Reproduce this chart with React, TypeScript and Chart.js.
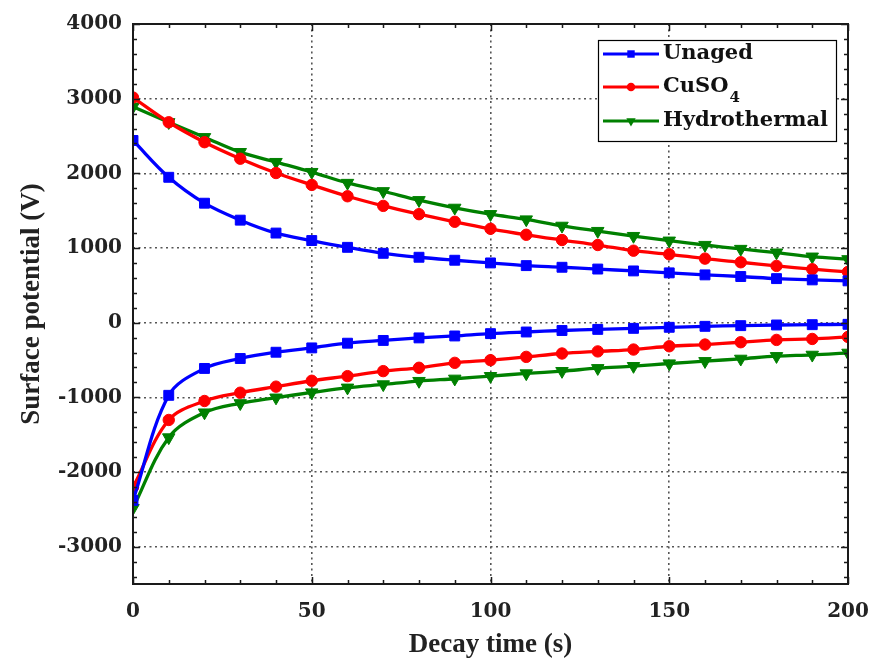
import React, { useEffect, useRef } from "react";
import { Chart, registerables } from "chart.js";

Chart.register(...registerables);

// ---- data ----
const TIME = [0, 10, 20, 30, 40, 50, 60, 70, 80, 90, 100, 110, 120, 130, 140, 150, 160, 170, 180, 190, 200];

const UNAGED_POS = [2440, 1947, 1600, 1373, 1200, 1100, 1009, 929, 876, 836, 800, 764, 742, 718, 693, 667, 640, 618, 590, 573, 560];
const UNAGED_NEG = [-2380, -973, -613, -480, -396, -338, -275, -238, -204, -178, -147, -125, -105, -90, -76, -62, -49, -40, -31, -27, -22];

const CUSO4_POS = [3015, 2684, 2417, 2196, 2004, 1845, 1693, 1564, 1453, 1351, 1257, 1177, 1107, 1040, 964, 916, 858, 809, 760, 716, 680];
const CUSO4_NEG = [-2204, -1303, -1049, -938, -857, -778, -716, -649, -604, -538, -502, -458, -413, -385, -360, -316, -293, -262, -231, -218, -191];

const HYDRO_POS = [2893, 2684, 2484, 2284, 2151, 2017, 1871, 1760, 1640, 1538, 1453, 1382, 1297, 1227, 1160, 1098, 1040, 987, 938, 884, 849];
const HYDRO_NEG = [-2484, -1537, -1204, -1080, -1004, -935, -871, -827, -782, -751, -716, -680, -649, -610, -582, -547, -516, -484, -449, -431, -404];

const SERIES_NAMES = ["Unaged", "CuSO", "Hydrothermal"];
const SERIES_SUBS = ["", "4", ""];
const SERIES_COLORS = ["#0000FF", "#FF0000", "#008000"];

const X_TICKS = [0, 50, 100, 150, 200];
const Y_TICKS = [-3000, -2000, -1000, 0, 1000, 2000, 3000, 4000];
const X_MIN = 0, X_MAX = 200, X_MINOR = 10;
const Y_MIN = -3500, Y_MAX = 4000, Y_MINOR = 200;

const X_TITLE = "Decay time (s)";
const Y_TITLE = "Surface potential (V)";

const TICK_FONT = { family: "'DejaVu Serif'", size: 20, weight: "bold" as const };
const TITLE_FONT = { family: "'Liberation Serif'", size: 27, weight: "bold" as const };

function pts(ys: number[]) {
  return TIME.map((t, i) => ({ x: t, y: ys[i] }));
}

const MARKERS = [
  { style: "rect", radius: 7, rotation: 0 },
  { style: "circle", radius: 5.7, rotation: 0 },
  { style: "triangle", radius: 7.2, rotation: 180 },
];

function makeDataset(idx: number, ys: number[], label: string) {
  const c = SERIES_COLORS[idx];
  const m = MARKERS[idx];
  return {
    label,
    data: pts(ys),
    borderColor: c,
    backgroundColor: c,
    borderWidth: 3.3,
    pointStyle: m.style,
    pointRadius: m.radius,
    pointRotation: m.rotation,
    pointBorderWidth: 1,
    pointBorderColor: c,
    pointBackgroundColor: c,
    tension: 0.35,
    fill: false,
  };
}

function drawMarker(ctx: CanvasRenderingContext2D, style: string, r: number, rot: number, x: number, y: number) {
  ctx.beginPath();
  if (style === "rect") {
    const s = Math.SQRT1_2 * r;
    ctx.rect(x - s, y - s, 2 * s, 2 * s);
  } else if (style === "circle") {
    ctx.arc(x, y, r, 0, Math.PI * 2);
  } else {
    const a = (rot * Math.PI) / 180;
    for (let k = 0; k < 3; k++) {
      const ang = a - Math.PI / 2 + (k * 2 * Math.PI) / 3;
      const px = x + Math.cos(ang) * r;
      const py = y + Math.sin(ang) * r;
      if (k === 0) ctx.moveTo(px, py);
      else ctx.lineTo(px, py);
    }
    ctx.closePath();
  }
  ctx.fill();
}

const framePlugin = {
  id: "frameTicksLegend",
  afterDatasetsDraw(chart: any) {
    const ctx = chart.ctx as CanvasRenderingContext2D;
    const xs = chart.scales.x;
    const ys = chart.scales.y;
    const { left, right, top, bottom } = chart.chartArea;
    ctx.save();
    ctx.strokeStyle = "#1a1a1a";
    ctx.lineWidth = 1.5;
    ctx.beginPath();
    for (let v = X_MIN; v <= X_MAX + 1e-9; v += X_MINOR) {
      const px = Math.round(xs.getPixelForValue(v)) + 0.5;
      const len = X_TICKS.includes(v) ? 7 : 4;
      ctx.moveTo(px, bottom);
      ctx.lineTo(px, bottom - len);
      ctx.moveTo(px, top);
      ctx.lineTo(px, top + len);
    }
    for (let v = -3400; v <= Y_MAX + 1e-9; v += Y_MINOR) {
      const py = Math.round(ys.getPixelForValue(v)) + 0.5;
      const len = Y_TICKS.includes(v) ? 7 : 4;
      ctx.moveTo(left, py);
      ctx.lineTo(left + len, py);
      ctx.moveTo(right, py);
      ctx.lineTo(right - len, py);
    }
    ctx.stroke();
    ctx.lineWidth = 2;
    ctx.strokeRect(left, top, right - left, bottom - top);

    // legend
    const bw = 238, bh = 101;
    const bx = right - 12 - bw;
    const by = top + 16;
    ctx.fillStyle = "#ffffff";
    ctx.fillRect(bx, by, bw, bh);
    ctx.lineWidth = 1.2;
    ctx.strokeStyle = "#000";
    ctx.strokeRect(bx + 0.5, by + 0.5, bw, bh);
    const rows = [by + 14, by + 47, by + 81];
    SERIES_NAMES.forEach((name, i) => {
      const y = rows[i];
      const c = SERIES_COLORS[i];
      ctx.strokeStyle = c;
      ctx.lineWidth = 3;
      ctx.beginPath();
      ctx.moveTo(bx + 5, y);
      ctx.lineTo(bx + 61, y);
      ctx.stroke();
      const m = MARKERS[i];
      ctx.fillStyle = c;
      drawMarker(ctx, m.style, m.radius * 0.75, m.rotation, bx + 33, y);
      ctx.fillStyle = "#111";
      ctx.font = "bold 21px 'DejaVu Serif'";
      ctx.textBaseline = "middle";
      ctx.textAlign = "left";
      ctx.fillText(name, bx + 65, y);
      if (SERIES_SUBS[i]) {
        const w = ctx.measureText(name).width;
        ctx.font = "bold 15px 'DejaVu Serif'";
        ctx.fillText(SERIES_SUBS[i], bx + 65 + w + 1, y + 11);
      }
    });
    ctx.restore();
  },
};

export default function App() {
  const ref = useRef<HTMLCanvasElement | null>(null);
  useEffect(() => {
    if (!ref.current) return;
    const chart = new Chart(ref.current, {
      type: "line",
      data: {
        datasets: [
          makeDataset(0, UNAGED_POS, "Unaged"),
          makeDataset(0, UNAGED_NEG, "Unaged (neg)"),
          makeDataset(1, CUSO4_POS, "CuSO4"),
          makeDataset(1, CUSO4_NEG, "CuSO4 (neg)"),
          makeDataset(2, HYDRO_POS, "Hydrothermal"),
          makeDataset(2, HYDRO_NEG, "Hydrothermal (neg)"),
        ] as any,
      },
      options: {
        responsive: false,
        animation: false,
        layout: { padding: { top: 24, right: 25, left: 0, bottom: 0 } },
        plugins: {
          legend: { display: false },
          tooltip: { enabled: false },
        },
        scales: {
          x: {
            type: "linear",
            min: X_MIN,
            max: X_MAX,
            afterBuildTicks: (s: any) => {
              s.ticks = X_TICKS.map((v) => ({ value: v }));
            },
            afterFit: (s: any) => {
              s.height = 79;
              s.paddingLeft = 0;
              s.paddingRight = 0;
            },
            ticks: { color: "#222", font: TICK_FONT, padding: 16, maxRotation: 0, callback: (v: any) => String(v) },
            grid: { color: "#555", lineWidth: 1.6, drawTicks: false },
            border: { display: false, dash: [2, 3.5] },
            title: { display: true, text: X_TITLE, color: "#222", font: TITLE_FONT, padding: { top: 0, bottom: 2 } },
          },
          y: {
            type: "linear",
            min: Y_MIN,
            max: Y_MAX,
            afterBuildTicks: (s: any) => {
              s.ticks = Y_TICKS.map((v) => ({ value: v }));
            },
            afterFit: (s: any) => {
              s.width = 133;
              s.paddingTop = 0;
              s.paddingBottom = 0;
            },
            ticks: { color: "#222", font: TICK_FONT, padding: 11, callback: (v: any) => String(v) },
            grid: { color: "#555", lineWidth: 1.6, drawTicks: false },
            border: { display: false, dash: [2, 3.5] },
            title: { display: true, text: Y_TITLE, color: "#222", font: TITLE_FONT, padding: { top: 16, bottom: 0 } },
          },
        },
      } as any,
      plugins: [framePlugin],
    });
    return () => chart.destroy();
  }, []);
  return (
    <div style={{ position: "absolute", left: 0, top: 0, width: 873, height: 663, background: "#fff" }}>
      <canvas ref={ref} width={873} height={663} />
    </div>
  );
}
